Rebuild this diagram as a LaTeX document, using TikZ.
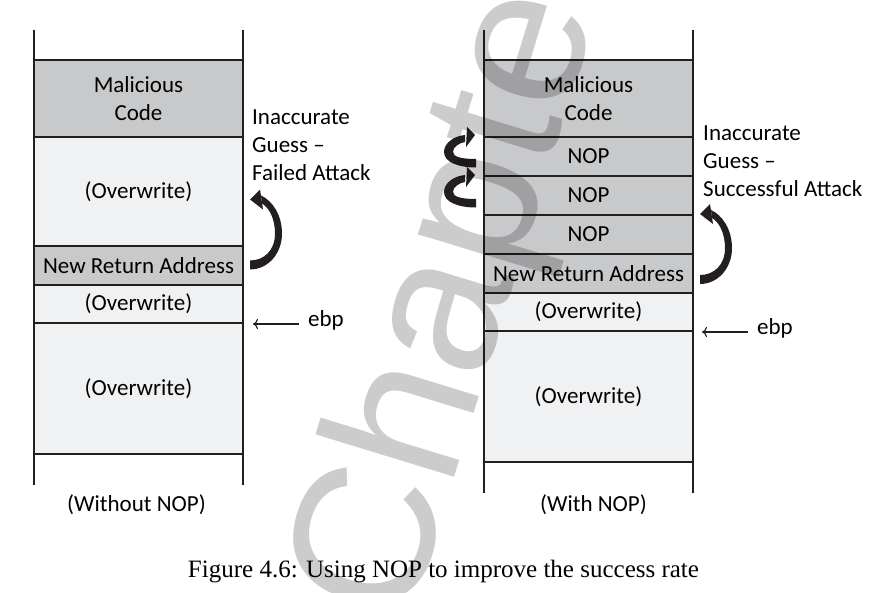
\documentclass[tikz,border=0pt]{standalone}
\usepackage{fontspec}
\setmainfont{Carlito}
\newfontfamily\capfont{Liberation Serif}
\newfontfamily\wmfont{Liberation Sans}
\usetikzlibrary{arrows.meta}
\definecolor{cellgray}{HTML}{C8C9CB}
\definecolor{celllight}{HTML}{F0F1F3}
\definecolor{ink}{HTML}{231F20}

\tikzset{
  % tapered curved jump arrow, tail at the origin, head on the left
  bigcurl/.pic={
    \fill[ink] (0,5) .. controls (18,5) and (32,-11) .. (32,-31)
      .. controls (32,-50) and (22,-64) .. (11,-69)
      -- (12,-61) .. controls (19,-57) and (25,-46) .. (25,-31)
      .. controls (25,-14) and (14,-4) .. (0,-4) -- cycle;
    \fill[ink] (10,-75) -- (0,-65) -- (13,-55) -- cycle;
  },
  % small jump arrow between NOP cells, head on the right
  smallcurl/.pic={
    \fill[ink] (0,4.5) .. controls (-18,4.5) and (-32,-1) .. (-32,-11)
      .. controls (-32,-20) and (-22,-27) .. (-11,-28)
      -- (-11,-21) .. controls (-17,-20) and (-23,-16) .. (-23,-11)
      .. controls (-23,-6) and (-14,-4) .. (0,-4) -- cycle;
    \fill[ink] (-9,-36) -- (-1,-28) -- (-10,-16) -- cycle;
  },
}

\begin{document}
\begin{tikzpicture}[x=1pt,y=-1pt,
  every node/.style={font=\fontsize{23}{28}\selectfont, inner sep=0pt},
  cell/.style={draw=ink, line width=2pt, minimum width=209pt, align=center},
  darkcell/.style={cell, fill=cellgray},
  lightcell/.style={cell, fill=celllight},
  rail/.style={draw=ink, line width=1.3pt},
  ptr/.style={draw=ink, line width=1.1pt, -{To[length=5pt,width=10pt]}},
  note/.style={align=left, anchor=base west},
  caption/.style={anchor=base},
  watermark/.style={font=\wmfont\fontsize{200}{200}\selectfont, text=black,
    text opacity=0.2, rotate=73, anchor=base west},
]
\useasboundingbox (0,0) rectangle (881,593);

% ---- stack without NOP sled ----
\coordinate (lrailtl) at (34,30);
\coordinate (lrailbl) at (34,485);
\coordinate (lrailtr) at (243,30);
\coordinate (lrailbr) at (243,485);
\draw[rail] (lrailtl) -- (lrailbl);
\draw[rail] (lrailtr) -- (lrailbr);

\node[darkcell,  minimum height=77pt]  (lmal) at (138.5,98.5)  {Malicious\\Code};
\node[lightcell, minimum height=109pt] (lov1) at (138.5,191.5) {(Overwrite)};
\node[darkcell,  minimum height=39pt]  (lret) at (138.5,265.5) {New Return Address};
\node[lightcell, minimum height=38pt]  (lov2) at (138.5,304)   {(Overwrite)};
\node[lightcell, minimum height=131pt] (lov3) at (138.5,388.5) {(Overwrite)};

% the base of a multi-line note sits on its last line
\node[note] (lguess) at (252,181) {Inaccurate\\Guess --\\Failed Attack};
\pic at (250,264.5) {bigcurl};

\node[anchor=base west] (lebp) at (308,327) {ebp};
\draw[ptr] ([xshift=55pt]lov2.south east) -- ([xshift=9pt]lov2.south east);

\node[caption] (lcap) at (136.5,511) {(Without NOP)};

% ---- stack with NOP sled ----
\coordinate (rrailtl) at (484,30);
\coordinate (rrailbl) at (484,493);
\coordinate (rrailtr) at (693,30);
\coordinate (rrailbr) at (693,493);
\draw[rail] (rrailtl) -- (rrailbl);
\draw[rail] (rrailtr) -- (rrailbr);

\node[darkcell,  minimum height=77pt]  (rmal)  at (588.5,98.5)  {Malicious\\Code};
\node[darkcell,  minimum height=39pt]  (rnop1) at (588.5,156.5) {NOP};
\node[darkcell,  minimum height=39pt]  (rnop2) at (588.5,195.5) {NOP};
\node[darkcell,  minimum height=39pt]  (rnop3) at (588.5,234.5) {NOP};
\node[darkcell,  minimum height=39pt]  (rret)  at (588.5,273.5) {New Return Address};
\node[lightcell, minimum height=38pt]  (rov1)  at (588.5,312)   {(Overwrite)};
\node[lightcell, minimum height=131pt] (rov2)  at (588.5,396.5) {(Overwrite)};

\node[note] (rguess) at (703,197) {Inaccurate\\Guess --\\Successful Attack};
\pic at (700,279) {bigcurl};
\pic at (476,163) {smallcurl};
\pic at (476,203) {smallcurl};

\node[anchor=base west] (rebp) at (757,335) {ebp};
\draw[ptr] ([xshift=54pt]rov1.south east) -- ([xshift=8pt]rov1.south east);

\node[caption] (rcap) at (593.5,511) {(With NOP)};

% ---- figure caption ----
\node[caption, font=\capfont\fontsize{25}{30}\selectfont] (figcap) at (443.5,577)
  {Figure 4.6: Using NOP to improve the success rate};

% ---- translucent watermark over everything ----
\node[watermark] (wm) at (408,629) {Chapter};
\end{tikzpicture}
\end{document}
